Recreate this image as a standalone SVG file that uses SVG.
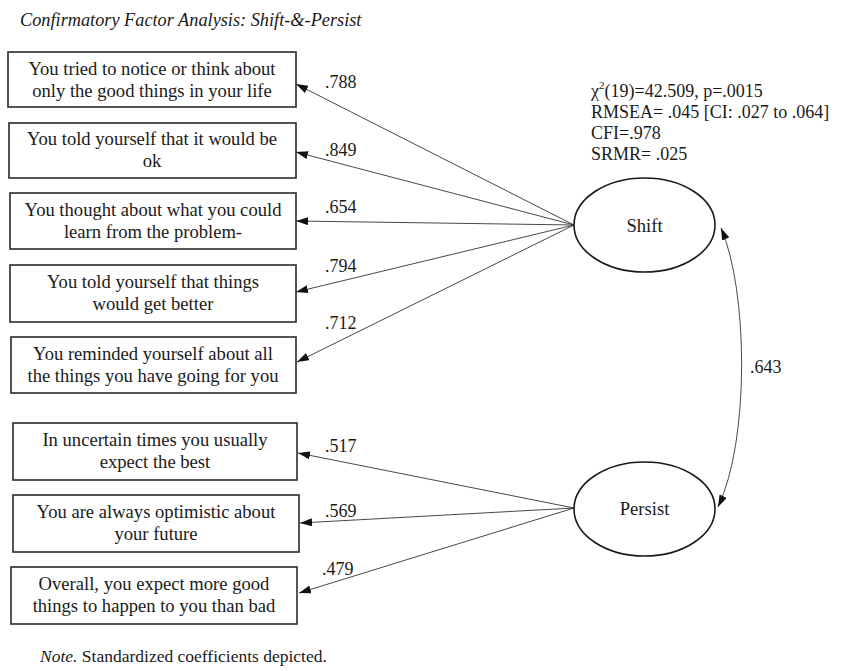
<svg xmlns="http://www.w3.org/2000/svg" width="841" height="671" viewBox="0 0 841 671">
<style>
text{font-family:"Liberation Serif","Times New Roman",serif;fill:#1a1a1a}
.box{fill:#fff;stroke:#2a2a2a;stroke-width:1.6}
.t{font-size:18.6px;text-anchor:middle}
.lab{font-size:18px}
.fit{font-size:18px}
.lat{fill:#fff;stroke:#1a1a1a;stroke-width:1.6}
.path{fill:none;stroke:#333;stroke-width:0.9}
</style>
<defs>
<marker id="ah" viewBox="0 0 12 8" refX="12" refY="4" markerWidth="12" markerHeight="8" markerUnits="userSpaceOnUse" orient="auto-start-reverse">
<path d="M0,0 L12,4 L0,8 z" fill="#111"/>
</marker>
</defs>
<rect width="841" height="671" fill="#fff"/>
<text x="20" y="26" font-size="18.3" font-style="italic">Confirmatory Factor Analysis: Shift-&amp;-Persist</text>
<g id="fit">
<text x="591" y="97" class="fit">χ<tspan dy="-8" font-size="11">2</tspan><tspan dy="8">(19)=42.509, p=.0015</tspan></text>
<text x="591" y="118" class="fit">RMSEA= .045 [CI: .027 to .064]</text>
<text x="591" y="139" class="fit">CFI=.978</text>
<text x="591" y="160" class="fit">SRMR= .025</text>
</g>
<g id="connectors">
<line class="path" x1="574" y1="225" x2="296" y2="84" marker-end="url(#ah)"/>
<line class="path" x1="574" y1="225" x2="296" y2="152" marker-end="url(#ah)"/>
<line class="path" x1="574" y1="225" x2="296" y2="221" marker-end="url(#ah)"/>
<line class="path" x1="574" y1="225" x2="296" y2="292" marker-end="url(#ah)"/>
<line class="path" x1="574" y1="225" x2="297" y2="362" marker-end="url(#ah)"/>
<line class="path" x1="574" y1="508" x2="298" y2="453" marker-end="url(#ah)"/>
<line class="path" x1="574" y1="508" x2="300" y2="523" marker-end="url(#ah)"/>
<line class="path" x1="574" y1="508" x2="299" y2="593" marker-end="url(#ah)"/>
<path class="path" d="M721,228 C748,290 750,440 718,507" marker-start="url(#ah)" marker-end="url(#ah)"/>
<text x="325" y="88" class="lab">.788</text>
<text x="325" y="156" class="lab">.849</text>
<text x="325" y="213" class="lab">.654</text>
<text x="325" y="272" class="lab">.794</text>
<text x="325" y="329" class="lab">.712</text>
<text x="325" y="452" class="lab">.517</text>
<text x="325" y="517" class="lab">.569</text>
<text x="322" y="575" class="lab">.479</text>
<text x="750" y="373" class="lab">.643</text>
</g>
<g id="item1"><rect class="box" x="8" y="52" width="288" height="55"/><text class="t" x="152" y="75">You tried to notice or think about</text><text class="t" x="152" y="97">only the good things in your life</text></g>
<g id="item2"><rect class="box" x="9" y="123" width="287" height="55"/><text class="t" x="152" y="145">You told yourself that it would be</text><text class="t" x="152" y="167">ok</text></g>
<g id="item3"><rect class="box" x="10" y="193" width="286" height="56"/><text class="t" x="153" y="216">You thought about what you could</text><text class="t" x="153" y="238">learn from the problem-</text></g>
<g id="item4"><rect class="box" x="10" y="265" width="286" height="57"/><text class="t" x="153" y="288">You told yourself that things</text><text class="t" x="153" y="310">would get better</text></g>
<g id="item5"><rect class="box" x="11" y="337" width="285" height="56"/><text class="t" x="153" y="360">You reminded yourself about all</text><text class="t" x="153" y="382">the things you have going for you</text></g>
<g id="item6"><rect class="box" x="13" y="423" width="284" height="57"/><text class="t" x="155" y="446">In uncertain times you usually</text><text class="t" x="155" y="468">expect the best</text></g>
<g id="item7"><rect class="box" x="13" y="495" width="286" height="57"/><text class="t" x="156" y="518">You are always optimistic about</text><text class="t" x="156" y="540">your future</text></g>
<g id="item8"><rect class="box" x="11" y="567" width="286" height="57"/><text class="t" x="154" y="590">Overall, you expect more good</text><text class="t" x="154" y="612">things to happen to you than bad</text></g>
<g id="shift"><ellipse class="lat" cx="644.5" cy="225" rx="70.5" ry="47"/><text class="t" x="644.5" y="232" font-size="18.5">Shift</text></g>
<g id="persist"><ellipse class="lat" cx="644.5" cy="509" rx="70.5" ry="47"/><text class="t" x="644.5" y="515" font-size="18.5">Persist</text></g>
<text x="40" y="662" font-size="17.5"><tspan font-style="italic">Note.</tspan> Standardized coefficients depicted.</text>
</svg>
